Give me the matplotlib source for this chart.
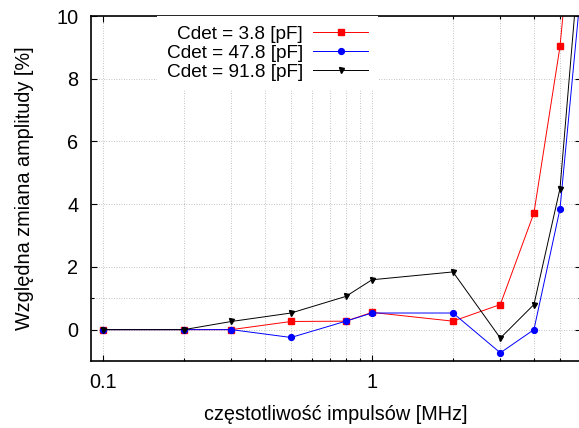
import matplotlib
matplotlib.use("Agg")
import matplotlib.pyplot as plt
from matplotlib.ticker import FixedLocator, NullFormatter, FixedFormatter

plt.rcParams['font.family'] = ['Liberation Sans', 'DejaVu Sans']

freq = [0.1, 0.2, 0.3, 0.5, 0.8, 1.0, 2.0, 3.0, 4.0, 5.0, 6.0]
c38 = [0.0, 0.0, 0.0, 0.26, 0.27, 0.55, 0.27, 0.80, 3.72, 9.03, 16.2]
c478 = [0.0, 0.0, 0.0, -0.25, 0.27, 0.53, 0.53, -0.74, 0.0, 3.85, 11.0]
c918 = [0.0, 0.0, 0.26, 0.53, 1.06, 1.59, 1.84, -0.27, 0.80, 4.50, 12.6]
labels = ["Cdet = 3.8 [pF]", "Cdet = 47.8 [pF]", "Cdet = 91.8 [pF]"]

FS = 14.3
fig = plt.figure(figsize=(5.79, 4.28), dpi=100)
W, H = 579, 428
x0, x1 = 90.7, 581.3
y0, y1 = 16, 361
ax = fig.add_axes([x0 / W, 1 - y1 / H, (x1 - x0) / W, (y1 - y0) / H])

ax.plot(freq, c38, color='#ff0000', lw=0.7, marker='s', ms=4, label=labels[0])
ax.plot(freq, c478, color='#0000ff', lw=0.7, marker='o', ms=4.2, label=labels[1])
ax.plot(freq, c918, color='#000000', lw=0.7, marker='v', ms=3.6, label=labels[2])

ax.set_xscale('log')
ax.set_xlim(0.09, 6.0)
ax.set_ylim(-1, 10)

ax.xaxis.set_major_locator(FixedLocator([0.1, 1]))
ax.xaxis.set_major_formatter(FixedFormatter(['0.1', '1']))
ax.xaxis.set_minor_locator(FixedLocator([0.2, 0.3, 0.4, 0.5, 0.6, 0.7, 0.8, 0.9, 2, 3, 4, 5]))
ax.xaxis.set_minor_formatter(NullFormatter())
ax.yaxis.set_major_locator(FixedLocator([0, 2, 4, 6, 8, 10]))
ax.yaxis.set_minor_locator(FixedLocator([1]))

ax.tick_params(which='major', direction='in', length=4.5, width=0.8, top=True, right=True,
               labelsize=FS, pad=9, colors='black')
ax.tick_params(which='minor', direction='in', length=2.5, width=0.8, top=True, right=True)
ax.tick_params(axis='x', which='major', pad=9)

ax.grid(True, which='both', color='#b0b0b0', linestyle=(0, (1, 2)), linewidth=0.6)
for s in ax.spines.values():
    s.set_linewidth(1.2)

ax.set_xlabel('częstotliwość impulsów [MHz]', fontsize=FS, labelpad=9)
ax.set_ylabel('Względna zmiana amplitudy [%]', fontsize=FS, labelpad=16)

leg = ax.legend(loc='upper right', bbox_to_anchor=((378 - x0) / (x1 - x0), 1.0),
                markerfirst=False, frameon=True, fancybox=False, borderaxespad=0,
                prop={'size': 13.7}, handlelength=2.9, handletextpad=0.55, labelspacing=0.08,
                borderpad=0.5)
leg.get_frame().set_edgecolor('none')
leg.get_frame().set_facecolor('white')
leg.get_frame().set_alpha(1.0)

fig.savefig('out.png', dpi=100)
